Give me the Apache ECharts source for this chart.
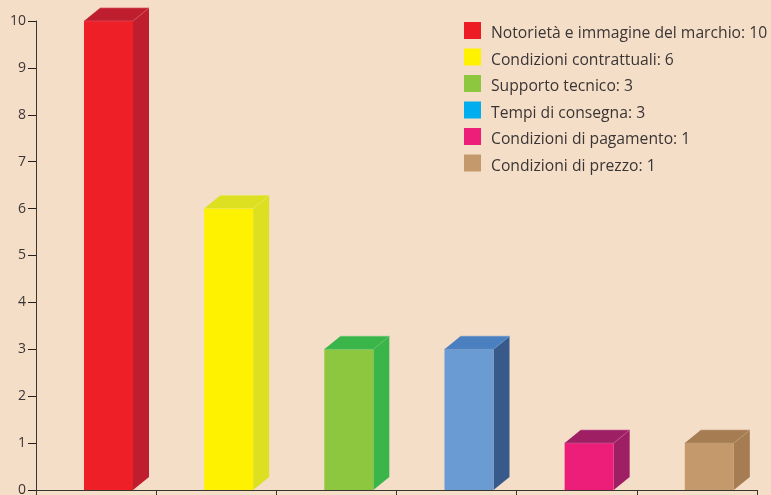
<!DOCTYPE html>
<html>
<head>
<meta charset="utf-8">
<style>html,body{margin:0;padding:0;background:#f5dec8}#c{width:771px;height:495px}</style>
<script src="https://cdn.jsdelivr.net/npm/echarts@6/dist/echarts.min.js"></script>
</head>
<body>
<div id="c"></div>
<script>
const categories = ['Notorietà e immagine del marchio','Condizioni contrattuali','Supporto tecnico','Tempi di consegna','Condizioni di pagamento','Condizioni di prezzo'];
const values = [10, 6, 3, 3, 1, 1];
const yTicks = [0, 10, 1];
const swatchColors = ['#ed1c24','#fff200','#8dc63f','#00aeef','#ed1e79','#c49a6c'];
const frontColors  = ['#ef1f27','#fff200','#8dc63f','#6a9bd3','#ed1e79','#c49a6c'];
const sideColors   = ['#be1e2d','#dde021','#39b54a','#385a8a','#9e1f63','#a67c52'];
const topColors    = ['#be1e2d','#dde021','#39b54a','#4a7fc0','#9e1f63','#a67c52'];
const edgeColors   = ['#d8505c','#e8ea50','#62c570','#6a94cc','#bd5a8e','#bd9b78'];

const DEPTH_X = 16, DEPTH_Y = 13, BAR_SHARE = 0.408, BAR_SHIFT = 12.4;

// Extruded column: front rectangle plus side and top parallelograms,
// set slightly right of the band centre.
function drawColumn(i) {
  return function (params, api) {
    const base = api.coord([api.value(0), 0]);
    const head = api.coord([api.value(0), api.value(1)]);
    const w = api.size([1, 0])[0] * BAR_SHARE;
    const cx = base[0] + BAR_SHIFT;
    const l = cx - w / 2, r = cx + w / 2, t = head[1], b = base[1];
    const poly = (points, fill) => ({ type: 'polygon', shape: { points }, style: { fill } });
    return {
      type: 'group',
      children: [
        poly([[r, t], [r + DEPTH_X, t - DEPTH_Y], [r + DEPTH_X, b - DEPTH_Y], [r, b]], sideColors[i]),
        poly([[l, t], [l + DEPTH_X, t - DEPTH_Y], [r + DEPTH_X, t - DEPTH_Y], [r, t]], topColors[i]),
        { type: 'rect', shape: { x: l, y: t, width: w, height: b - t }, style: { fill: frontColors[i] } },
        { type: 'polyline', shape: { points: [[l + DEPTH_X, t - DEPTH_Y], [r + DEPTH_X, t - DEPTH_Y], [r, t], [l, t]] },
          style: { fill: 'none', stroke: edgeColors[i], lineWidth: 0.7 } }
      ]
    };
  };
}

const chart = echarts.init(document.getElementById('c'));
chart.setOption({
  animation: false,
  backgroundColor: '#f5dec8',
  textStyle: { fontFamily: 'Open Sans' },
  grid: { left: 36, right: 14, top: 21, bottom: 5, outerBoundsMode: 'none' },
  legend: {
    left: 464, top: 22, orient: 'vertical', padding: 0,
    itemWidth: 17, itemHeight: 17, itemGap: 6.5,
    icon: 'rect',
    selectedMode: false,
    formatter: name => '{entry|' + name + ': ' + values[categories.indexOf(name)] + '}',
    textStyle: {
      rich: {
        entry: { color: '#3a3535', fontSize: 15.7, fontFamily: 'Open Sans', padding: [7, 0, 0, 5] }
      }
    },
    data: categories
  },
  xAxis: {
    type: 'category', data: categories,
    axisLine: { lineStyle: { color: '#3b3531', width: 1 } },
    axisTick: { show: true, interval: 0, length: 6, lineStyle: { color: '#3b3531' } },
    axisLabel: { show: false },
    splitLine: { show: false }
  },
  yAxis: {
    type: 'value', min: yTicks[0], max: yTicks[1], interval: yTicks[2],
    axisLine: { show: true, lineStyle: { color: '#3b3531', width: 1 } },
    axisTick: { show: true, length: 8, lineStyle: { color: '#231f20' } },
    axisLabel: { color: '#3a3535', fontSize: 14, margin: 10, fontFamily: 'Open Sans' },
    splitLine: { show: false }
  },
  series: categories.map((name, i) => ({
    type: 'custom', name,
    itemStyle: { color: swatchColors[i] },
    renderItem: drawColumn(i),
    clip: false,
    z: 1,
    data: [[i, values[i]]]
  }))
});
</script>
</body>
</html>
